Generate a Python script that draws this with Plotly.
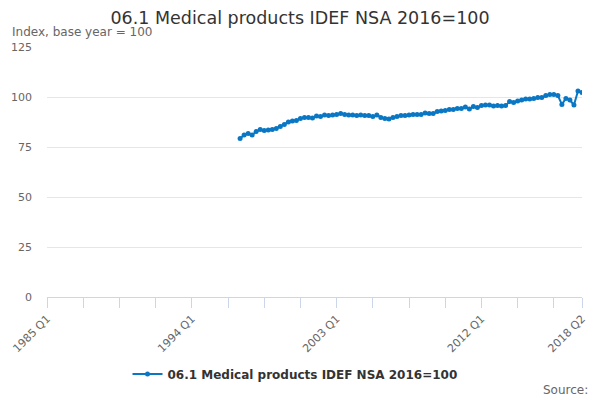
import plotly.graph_objects as go

# Quarterly categories, 1985 Q1 .. 2018 Q2
quarters = [f"{y} Q{q}" for y in range(1985, 2019) for q in range(1, 5)]
quarters = quarters[:quarters.index("2018 Q2") + 1]

# Series starts in 1997 Q1
series_start = "1997 Q1"
values = [
    79.3, 81.0, 81.7, 81.0, 82.7, 83.7, 83.2, 83.5, 83.8, 84.3,
    85.3, 86.3, 87.5, 88.0, 88.3, 89.2, 89.7, 89.8, 89.5, 90.5,
    90.2, 91.0, 90.7, 91.0, 91.2, 91.7, 91.2, 91.0, 91.0,
    90.8, 91.0, 90.7, 90.7, 90.2, 91.0, 89.8, 89.3, 89.0, 89.8,
    90.2, 90.8, 90.8, 91.0, 91.2, 91.2, 91.3, 92.0, 91.7, 91.8,
    92.7, 93.0, 93.3, 93.7, 93.8, 94.2, 94.2, 95.0, 94.0,
    95.2, 94.7, 95.7, 96.0, 96.0, 95.5, 95.7, 95.5, 95.7, 97.7,
    97.3, 98.0, 98.5, 99.0, 99.0, 99.3, 99.7, 99.7, 100.7, 101.2,
    101.2, 100.7, 96.3, 99.3, 98.5, 96.0, 103.0, 102.3,
]
series_name = "06.1 Medical products IDEF NSA 2016=100"
labelled = ["1985 Q1", "1994 Q1", "2003 Q1", "2012 Q1", "2018 Q2"]
y_ticks = [0, 25, 50, 75, 100, 125]

start = quarters.index(series_start)
x_data = quarters[start:start + len(values)]

# tick every 9 quarters, labels only on selected ones
tick_vals = quarters[::9] + [quarters[-1]]
tick_text = [q if q in labelled else "" for q in tick_vals]

# the page body adds an 8px offset, so layout is shifted up/left by that
off = 8

fig = go.Figure()
fig.add_trace(go.Scatter(
    x=x_data, y=values, name=series_name,
    mode="lines+markers",
    line=dict(color="#0a77c4", width=2),
    marker=dict(color="#0a77c4", size=5),
))

fig.update_layout(
    width=600, height=400,
    margin=dict(l=47 - off, r=18 + off, t=47 - off, b=103 + off),
    paper_bgcolor="white", plot_bgcolor="white",
    font=dict(family="DejaVu Sans", color="#666666", size=11),
    title=dict(text=series_name, x=(300 - off) / 600, xref="container", xanchor="center",
               y=1 - (18 - off) / 400, yref="container", yanchor="middle",
               font=dict(size=17.5, color="#333333")),
    showlegend=True,
    legend=dict(orientation="h", x=(295 - off) / 600, xanchor="center", xref="container",
                y=1 - (374 - off) / 400, yref="container", yanchor="middle",
                font=dict(size=12, color="#333333", weight="bold")),
    annotations=[
        dict(text="Index, base year = 100", xref="paper", yref="paper",
             x=(10 - 47) / 535, y=1 + 15 / 250, xanchor="left", yanchor="middle",
             showarrow=False, font=dict(size=12, color="#666666")),
        dict(text="Source:", xref="paper", yref="paper",
             x=(590 - 47) / 535, y=-(390 - 297) / 250, xanchor="right", yanchor="middle",
             showarrow=False, font=dict(size=12, color="#666666")),
    ],
)

fig.update_xaxes(
    type="category", categoryorder="array", categoryarray=quarters,
    range=[0, len(quarters) - 1], automargin=False,
    tickmode="array", tickvals=tick_vals, ticktext=tick_text,
    tickangle=-45, ticks="outside", ticklen=10, tickcolor="#ccd6eb",
    showline=True, linecolor="#ccd6eb", linewidth=1,
    showgrid=False, zeroline=False,
    tickfont=dict(size=11, color="#666666"),
)
fig.update_yaxes(
    range=[0, 125], tickmode="array", tickvals=y_ticks, automargin=False,
    showgrid=True, gridcolor="#e6e6e6", zeroline=False, showline=False,
    ticks="", ticklabelstandoff=14,
    tickfont=dict(size=11, color="#666666"),
)

fig.write_html("out.html")
